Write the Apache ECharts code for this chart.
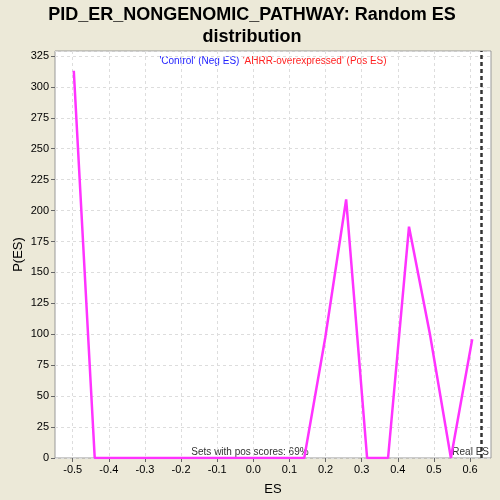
<!DOCTYPE html>
<html><head><meta charset="utf-8">
<script src="https://cdn.jsdelivr.net/npm/echarts@6/dist/echarts.min.js"></script>
<style>html,body{margin:0;padding:0;background:#ECE9D8;}#c{width:500px;height:500px;}</style>
</head><body><div id="c"></div>
<script>
var esValues = [-0.497, -0.439, -0.381, -0.323, -0.265, -0.207, -0.149, -0.091, -0.033, 0.025, 0.083, 0.141, 0.199, 0.257, 0.315, 0.373, 0.431, 0.489, 0.547, 0.606];
var pValues  = [313, 0, 0, 0, 0, 0, 0, 0, 0, 0, 0, 0, 97, 209, 0, 0, 187, 100, 0, 96];
var xTicks = [-0.5, -0.4, -0.3, -0.2, -0.1, 0.0, 0.1, 0.2, 0.3, 0.4, 0.5, 0.6];
var realES = 0.634;
var posText = 'Sets with pos scores: 69%';

var chart = echarts.init(document.getElementById('c'));
var data = esValues.map(function(x, i){ return [x, pValues[i]]; });
var font = 'Arial, "Liberation Sans", sans-serif';
chart.setOption({
  backgroundColor: '#ECE9D8',
  animation: false,
  title: {
    text: 'PID_ER_NONGENOMIC_PATHWAY: Random ES\ndistribution',
    left: 247, top: -1, textAlign: 'center',
    textStyle: {fontFamily: font, fontSize: 18, fontWeight: 'bold', color: '#000', lineHeight: 22}
  },
  grid: {left: 55, right: 9, top: 51, bottom: 42, outerBoundsMode: 'none', containLabel: false,
    show: true, backgroundColor: '#fff', borderColor: '#999', borderWidth: 1},
  xAxis: {
    type: 'value', min: -0.549, max: 0.658,
    name: 'ES', nameLocation: 'middle', nameGap: 25, nameMoveOverlap: false,
    nameTextStyle: {fontFamily: font, fontSize: 13, color: '#000'},
    axisLine: {show: false, onZero: false},
    axisTick: {show: true, customValues: xTicks, length: 4, lineStyle: {color: '#666'}},
    axisLabel: {customValues: xTicks, fontFamily: font, fontSize: 11, color: '#000', margin: 6,
      formatter: function(v){ return v.toFixed(1); }},
    splitLine: {show: true, lineStyle: {color: '#ddd', type: [3, 3]}}
  },
  yAxis: {
    type: 'value', min: 0, max: 329, interval: 25,
    name: 'P(ES)', nameLocation: 'middle', nameGap: 30, nameMoveOverlap: false,
    nameTextStyle: {fontFamily: font, fontSize: 13, color: '#000'},
    axisLine: {show: false, onZero: false},
    axisTick: {show: true, length: 4, lineStyle: {color: '#666'}},
    axisLabel: {fontFamily: font, fontSize: 11, color: '#000', margin: 6, showMaxLabel: false},
    splitLine: {show: true, lineStyle: {color: '#ddd', type: [3, 3]}}
  },
  series: [{
    type: 'line', data: data, symbol: 'none',
    lineStyle: {color: '#FF33FF', width: 2.5},
    markLine: {
      silent: true, symbol: 'none', label: {show: false},
      lineStyle: {color: '#333', type: [4, 3], width: 2.5},
      data: [{xAxis: realES}]
    }
  }],
  graphic: [
    {type: 'text', x: 273, y: 61, style: {
      text: "{b|'Control' (Neg ES)} {r|'AHRR-overexpressed' (Pos ES)}",
      textAlign: 'center', textVerticalAlign: 'middle',
      rich: {b: {fill: '#2222FF', fontFamily: font, fontSize: 10}, r: {fill: '#FF2222', fontFamily: font, fontSize: 10}}
    }},
    {type: 'text', x: 250, y: 457, style: {text: posText, fill: '#333', fontFamily: font, fontSize: 10, textAlign: 'center', textVerticalAlign: 'bottom'}},
    {type: 'text', x: 489, y: 457, style: {text: 'Real ES', fill: '#333', fontFamily: font, fontSize: 10, textAlign: 'right', textVerticalAlign: 'bottom'}}
  ]
});
</script></body></html>
